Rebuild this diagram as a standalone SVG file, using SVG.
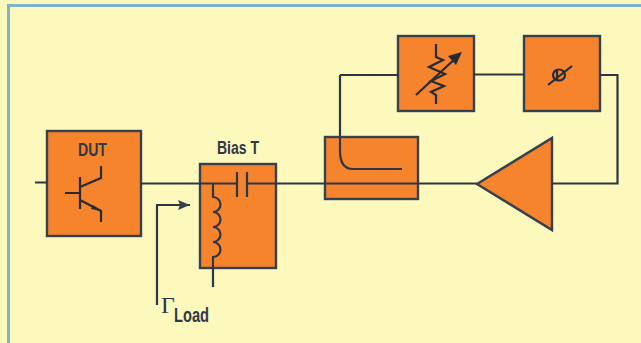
<svg xmlns="http://www.w3.org/2000/svg" width="641" height="343" viewBox="0 0 641 343">
<style>
.b{fill:#f6842c;stroke:#37404f;stroke-width:2.4}
.w{fill:none;stroke:#2f3642;stroke-width:2.2}
.t{fill:none;stroke:#262b36;stroke-width:2.2}
.l{font-family:"Liberation Sans",sans-serif;font-weight:700;fill:#303848}
</style>
<defs><marker id="a" markerUnits="userSpaceOnUse" markerWidth="14" markerHeight="12" refX="12" refY="5" orient="auto"><path d="M0 0L12 5L0 10L2 5Z" fill="#37404f"/></marker></defs>
<rect width="641" height="343" fill="#fdf9bd"/>
<path d="M641 5.500H8.500V343" fill="none" stroke="#7fb3cc" stroke-width="3"/>
<g id="DUT"><rect class="b" x="47" y="131" width="94" height="105"/>
<text class="l" x="78" y="156" font-size="19" textLength="29" lengthAdjust="spacingAndGlyphs">DUT</text>
<path class="t" d="M65 193H80M80 177V209M80 187L101 178V166M80 200L101 211V222"/>
<path d="M101 211L93 205L91 209Z" fill="#262b36"/></g>
<g id="BiasT"><rect class="b" x="200" y="164" width="76" height="104"/>
<text class="l" x="217" y="154" font-size="18" textLength="42" lengthAdjust="spacingAndGlyphs">Bias T</text></g>
<g id="Coupler"><rect class="b" x="325" y="137" width="93" height="62"/></g>
<g id="Attenuator"><rect class="b" x="398" y="36" width="76" height="75"/>
<path class="t" d="M436 44V57L443 60L429 67L445 74L431 81L444 86L431 92L436 95V104"/>
<path class="t" d="M416 95L458 56"/><path d="M462 52L448 56L456 65Z" fill="#262b36"/></g>
<g id="Phase"><rect class="b" x="524" y="36" width="76" height="75"/>
<ellipse class="t" cx="559" cy="75" rx="6" ry="5.500"/>
<path class="t" d="M548 85L572 66M557 69V81"/></g>
<g id="Amplifier"><path class="b" d="M477 184L552 138V230Z"/></g>
<g id="connectors">
<path class="w" d="M35 182.500H47M141 183.500H237M247 183.500H477M552 183.500H617.500V75H600M340 75V151Q340 169 353 169H402M340 75H398M474 74.500H524"/>
<path class="w" d="M237 172V197M247 172V197"/>
<path class="w" d="M213 184V197A7.500 7.500 0 0 1 213 212A7.500 7.500 0 0 1 213 227A7.500 7.500 0 0 1 213 242A7.500 7.500 0 0 1 213 257V287"/>
<path class="w" d="M157 305V205H190" marker-end="url(#a)"/>
</g>
<text x="161" y="313" font-family="Liberation Serif,serif" font-size="24" fill="#303848">Γ</text>
<text class="l" x="174" y="322" font-size="20" textLength="35" lengthAdjust="spacingAndGlyphs">Load</text>
</svg>
